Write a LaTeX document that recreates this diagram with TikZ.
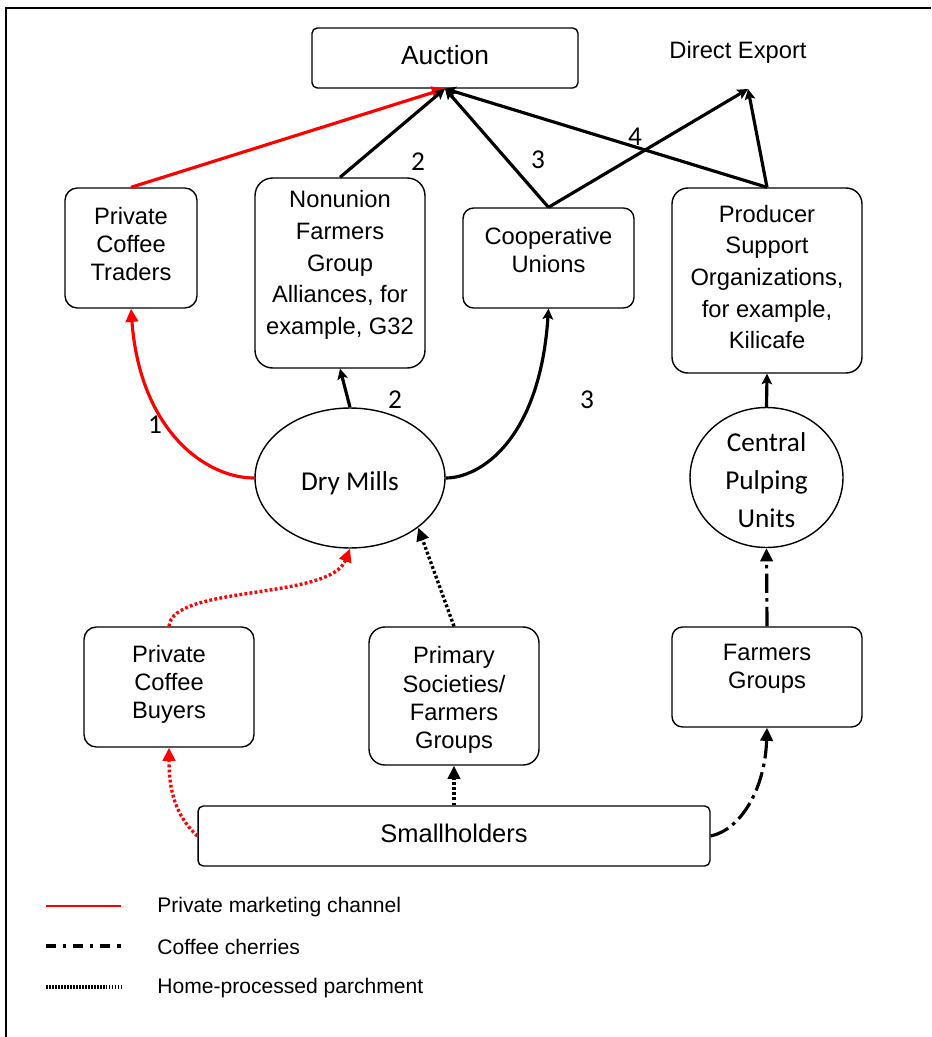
\documentclass[tikz,border=0pt]{standalone}
\usepackage{fontspec}
\setmainfont{Liberation Sans}
\newfontfamily\calfont{Carlito}
\usetikzlibrary{arrows.meta}
\usetikzlibrary{shapes.geometric}

\begin{document}
\begin{tikzpicture}[x=0.02cm,y=-0.02cm,>/.tip={Triangle[length=7.5pt,width=7pt]},
	box/.style={draw,thick,rounded corners=7pt},
	mill/.style={draw,thick,shape=ellipse,inner sep=0pt},
	txt/.style={align=center,inner sep=0pt,font=\fontsize{13.5}{16}\selectfont},
	big/.style={align=center,inner sep=0pt,font=\calfont\fontsize{15.5}{21.8}\selectfont},
	num/.style={inner sep=0pt,font=\calfont\fontsize{15.5}{18}\selectfont},
	key/.style={anchor=west,inner sep=0pt,font=\fontsize{12}{14}\selectfont},
	flow/.style={line width=1.8pt,-{Stealth[length=6pt,width=6pt,inset=1.2pt]}},
	priv/.style={line width=1.8pt,red,->},
	parch/.style={line width=1.9pt,dash pattern=on 1.6pt off 1.3pt,->},
	cherry/.style={line width=1.8pt,dash pattern=on 11pt off 3pt on 2pt off 3pt,->}]
	\useasboundingbox (0,0) rectangle (931,1037);
	\draw[line width=1.1pt] (6,1037) -- (6,8) -- (931,8);
	% top
	\node (auction) [box,rounded corners=3pt,minimum width=5.32cm,minimum height=1.2cm] at (445,58) {};
	\node (auctiont) [txt,font=\fontsize{15}{18}\selectfont] at (445,55) {Auction};
	\node (export) [txt] at (738,52) {Direct Export};
	\coordinate (dx) at (748,89);
	% buyers of dry mill output
	\node (traders) [box,minimum width=2.64cm,minimum height=2.4cm] at (131,248) {};
	\node (traderst) [txt] at (131,244) {Private\\Coffee\\Traders};
	\node (nonunion) [box,rounded corners=10pt,minimum width=3.4cm,minimum height=3.8cm] at (340,273) {};
	\node (nonuniont) [txt,font=\fontsize{13.5}{18}\selectfont] at (340,265) {Nonunion\\Farmers\\Group\\Alliances, for\\example, G32};
	\node (coop) [box,rounded corners=6pt,minimum width=3.42cm,minimum height=2cm] at (548.5,258) {};
	\node (coopt) [txt] at (548.5,250) {Cooperative\\Unions};
	\node (producer) [box,rounded corners=9pt,minimum width=3.8cm,minimum height=3.7cm] at (767,280.5) {};
	\node (producert) [txt,font=\fontsize{13.5}{18}\selectfont] at (767,277) {Producer\\Support\\Organizations,\\for example,\\Kilicafe};
	% mills
	\node (drymills) [mill,minimum width=3.8cm,minimum height=2.8cm] at (350,478) {};
	\node (drymillst) [big] at (350,483) {Dry Mills};
	\node (pulping) [mill,minimum width=3.06cm,minimum height=2.8cm] at (766.5,477.5) {};
	\node (pulpingt) [big] at (766.5,480) {Central\\Pulping\\Units};
	% growers side
	\node (buyers) [box,minimum width=3.4cm,minimum height=2.4cm] at (169,687) {};
	\node (buyerst) [txt] at (169,684) {Private\\Coffee\\Buyers};
	\node (primary) [box,rounded corners=9pt,minimum width=3.4cm,minimum height=2.76cm] at (454,696) {};
	\node (primaryt) [txt] at (454,700) {Primary\\Societies/\\Farmers\\Groups};
	\node (farmers) [box,rounded corners=6pt,minimum width=3.8cm,minimum height=2cm] at (767,677) {};
	\node (farmerst) [txt] at (767,669) {Farmers\\Groups};
	\node (small) [box,rounded corners=3pt,minimum width=10.24cm,minimum height=1.2cm] at (454,836) {};
	\node (smallt) [txt,font=\fontsize{14.5}{17}\selectfont] at (454,833) {Smallholders};
	% channel numbers
	\node (n1) [num] at (155,425) {1};
	\node (n2a) [num] at (418,162) {2};
	\node (n2b) [num] at (395,400) {2};
	\node (n3a) [num] at (538,160) {3};
	\node (n3b) [num] at (587,400) {3};
	\node (n4) [num] at (635,137) {4};
	% flows
	\draw[priv] (traders.north) -- (auction.south);
	\draw[flow] (nonunion.north) -- (auction.south);
	\draw[flow] (coop.north) -- (auction.south);
	\draw[flow] (coop.north) -- (dx);
	\draw[flow] (producer.north) -- (auction.south);
	\draw[flow] (producer.north) -- (dx);
	\draw[priv] (drymills.west) .. controls (205,478) and (140,430) .. (traders.south);
	\draw[flow] (drymills.north) -- (nonunion.south);
	\draw[flow] (drymills.east) .. controls (480,478) and (540,440) .. (coop.south);
	\draw[priv,parch] (buyers.north) .. controls (172,585) and (330,600) .. (drymills.south);
	\draw[parch] (primary.north) -- (drymills.-36);
	\draw[parch] (small.north) -- (primary.south);
	\draw[priv,parch] (small.west) .. controls (175,815) and (169,790) .. (buyers.south);
	\draw[cherry] (small.east) .. controls (740,830) and (765,790) .. (farmers.south);
	\draw[cherry] (farmers.north) -- (pulping.south);
	\draw[flow] (pulping.north) -- (producer.south);
	% legend
	\coordinate (k1a) at (46,906);
	\coordinate (k1b) at (121,906);
	\coordinate (k2a) at (46,946);
	\coordinate (k2b) at (121,946);
	\coordinate (k3a) at (46,987);
	\coordinate (k3b) at (121,987);
	\draw[red,line width=0.8pt] (k1a) -- (k1b);
	\draw[line width=1.8pt,dash pattern=on 5.5pt off 4pt on 2pt off 4pt] (k2a) -- (k2b);
	\draw[line width=2pt,dash pattern=on 1pt off 0.7pt] (k3a) -- (k3b);
	\node (k1) [key] at (157,907) {Private marketing channel};
	\node (k2) [key] at (157,947) {Coffee cherries};
	\node (k3) [key] at (157,988) {Home-processed parchment};
\end{tikzpicture}
\end{document}
